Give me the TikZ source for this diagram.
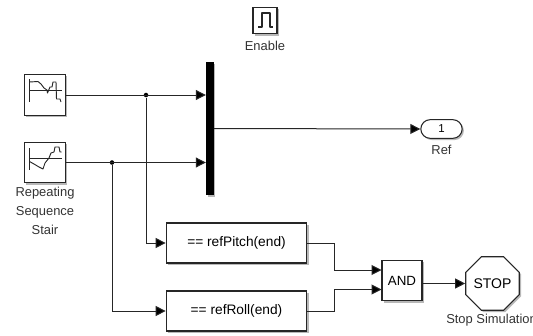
\documentclass[tikz,border=0pt]{standalone}
\usepackage{fontspec}
\setmainfont{Liberation Sans}
\usetikzlibrary{arrows.meta,shapes.geometric,shapes.misc,shadows}
\tikzset{
  blk/.style={draw=black!85,line width=0.8pt,fill=white,inner sep=0pt,
    drop shadow={shadow xshift=1.3pt,shadow yshift=-1.3pt,opacity=0.28,fill=black}},
  srcblk/.style={blk,minimum width=30.4pt,minimum height=30.4pt},
  cmpblk/.style={blk,minimum width=105.5pt,minimum height=30pt,font=\fontsize{10.3pt}{12pt}\selectfont},
  lbl/.style={font=\fontsize{9.7pt}{14.2pt}\selectfont,text=black!80,align=center,inner sep=0pt},
  wire/.style={draw=black!85,line width=0.75pt},
  conn/.style={wire,-{Triangle[length=7.5pt,width=7.5pt,fill=black]}},
  dotj/.style={circle,fill=black,inner sep=0pt,minimum size=3.4pt},
  icon/.style={draw=black!85,line width=0.7pt,line join=round}
}
\begin{document}
\begin{tikzpicture}[x=0.75pt,y=-0.75pt]
\useasboundingbox (0,0) rectangle (533,336);
\clip (0,0) rectangle (533,336);
% blocks
\node[blk,minimum width=18pt,minimum height=20pt] (enable) at (265,20.5) {};
\node[lbl] (enablel) at (265,46) {Enable};
\node[srcblk] (s1) at (45,95) {};
\node[srcblk] (s2) at (45,162.5) {};
\node[lbl,anchor=north] (s2l) at (45,186.5) {Repeating\\Sequence\\Stair};
\node[fill=black,inner sep=0pt,minimum width=5.6pt,minimum height=100pt,
  drop shadow={shadow xshift=1.3pt,shadow yshift=-1.3pt,opacity=0.28,fill=black}] (bus) at (209.8,128.5) {};
\node[blk,rounded rectangle,minimum width=31pt,minimum height=14pt,font=\fontsize{8.6pt}{10pt}\selectfont] (ref) at (441.5,129) {1};
\node[lbl] (refl) at (441.5,150) {Ref};
\node[cmpblk] (pitch) at (236.5,243) {== refPitch(end)};
\node[cmpblk] (roll) at (236.5,311) {== refRoll(end)};
\node[blk,minimum width=30pt,minimum height=30.5pt,font=\fontsize{10pt}{12pt}\selectfont] (and) at (402,280.5) {AND};
\node[blk,regular polygon,regular polygon sides=8,minimum size=39.5pt,font=\fontsize{10.5pt}{12pt}\selectfont] (stop) at (492.5,283.5) {STOP};
\node[lbl,anchor=west] (stopl) at (446,320) {Stop Simulation};
% icons
\draw[icon,line width=0.8pt] (258,27) -- (262,27) -- (262,13) -- (270,13) -- (270,27) -- (273,27);
\draw[icon] (29.5,79) -- (29.5,102);
\draw[icon] (29.5,90.5) -- (61.5,90.5);
\draw[icon] (29.5,82) -- (38,81.5) -- (41,84) -- (44,88) -- (47,90) -- (47.5,93) -- (50,87) -- (52,87) -- (53,82) -- (56,82) -- (56.5,99) -- (60,99) -- (61,102);
\draw[icon] (29.5,148) -- (29.5,170);
\draw[icon] (29.5,158.5) -- (61.5,158.5);
\draw[icon] (29.5,161.5) -- (34,164) -- (39,167) -- (43,169) -- (45,163) -- (49,158) -- (51,153) -- (54,152) -- (55,147) -- (59,147) -- (60,152) -- (61.5,152);
% junctions
\coordinate (b1) at (bus.west |- s1.east);
\coordinate (b2) at (bus.west |- s2.east);
\node[dotj] (j1) at (146,95) {};
\node[dotj] (j2) at (112,162.5) {};
\coordinate (a1) at (381.5,270);
\coordinate (a2) at (381.5,289.5);
\coordinate (m1) at (334,270);
\coordinate (m2) at (334,289.5);
% connectors
\draw[conn] (s1.east) -- (b1);
\draw[conn] (s2.east) -- (b2);
\draw[conn] (bus.east) -- (ref.west);
\draw[conn] (j1) |- (pitch.west);
\draw[conn] (j2) |- (roll.west);
\draw[conn] (pitch.east) -| (m1) -- (a1);
\draw[conn] (roll.east) -| (m2) -- (a2);
\draw[conn] (and.east |- stop.west) -- (stop.west);
\end{tikzpicture}
\end{document}
